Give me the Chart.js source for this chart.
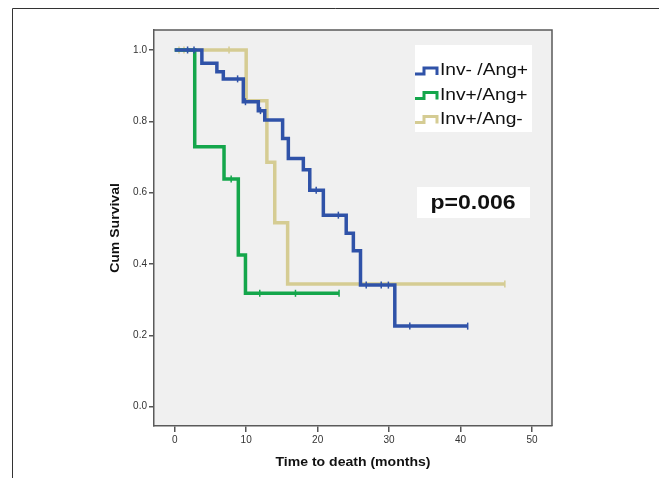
<!DOCTYPE html>
<html lang="en">
<head>
<meta charset="UTF-8">
<title>Cum Survival - Time to death</title>
<script src="https://cdn.jsdelivr.net/npm/chart.js"></script>
<style>
  html, body { margin: 0; padding: 0; background: #fff; }
  #wrap { width: 659px; height: 478px; }
</style>
</head>
<body>
<div id="wrap"><canvas id="km" width="659" height="478"></canvas></div>
<script>
  // groups
  const seriesNames = ['Inv- /Ang+', 'Inv+/Ang+', 'Inv+/Ang-'];
  const seriesColors = ['#2f52a8', '#14a64b', '#d5cc93'];
  const pValueText = 'p=0.006';
  const xTitle = 'Time to death (months)';
  const yTitle = 'Cum Survival';
  const xTicks = [0, 10, 20, 30, 40, 50];
  const yTicks = [0, 0.2, 0.4, 0.6, 0.8, 1.0];

  // Inv- /Ang+ : step points (months, survival) and censored cases
  const blueTime = [0, 3.8, 5.9, 6.8, 9.6, 11.7, 12.6, 15.1, 15.9, 18.0, 18.9, 20.8, 24.0, 25.0, 26.0, 30.8, 41.0];
  const blueSurv = [1, 0.963, 0.939, 0.919, 0.855, 0.83, 0.804, 0.752, 0.696, 0.664, 0.607, 0.537, 0.486, 0.437, 0.341, 0.226, 0.226];
  const blueCensTime = [1.8, 2.7, 8.8, 9.9, 12.0, 19.8, 22.9, 26.8, 28.9, 29.9, 32.9, 41.0];
  const blueCensSurv = [1, 1, 0.919, 0.855, 0.83, 0.607, 0.537, 0.341, 0.341, 0.341, 0.226, 0.226];

  // Inv+/Ang+
  const greenTime = [0, 2.8, 6.9, 8.9, 9.9, 23.0];
  const greenSurv = [1, 0.729, 0.638, 0.425, 0.318, 0.318];
  const greenCensTime = [7.9, 11.9, 16.9, 23.0];
  const greenCensSurv = [0.638, 0.318, 0.318, 0.318];

  // Inv+/Ang-
  const tanTime = [0, 10.0, 12.9, 14.0, 15.8, 46.2];
  const tanSurv = [1, 0.858, 0.685, 0.516, 0.344, 0.344];
  const tanCensTime = [0.6, 1.3, 7.6, 46.2];
  const tanCensSurv = [1, 1, 1, 0.344];

  const pts = (xs, ys) => xs.map((x, i) => ({ x: x, y: ys[i] }));

  function stepSet(xs, ys, color, order) {
    return {
      type: 'line', data: pts(xs, ys), stepped: true,
      borderColor: color, borderWidth: 3.5, pointRadius: 0,
      fill: false, order: order, borderJoinStyle: 'miter'
    };
  }
  function censSet(xs, ys, color, order) {
    return {
      type: 'scatter', data: pts(xs, ys), pointStyle: 'line', rotation: 90,
      pointRadius: 3.5, borderColor: color, pointBorderWidth: 1.5,
      backgroundColor: color, order: order
    };
  }

  // stretched text, the original picture is a bit wide
  function txt(ctx, s, x, y, font, align, sx) {
    ctx.save();
    ctx.translate(x, y);
    ctx.scale(sx, 1);
    ctx.font = font;
    ctx.textAlign = align;
    ctx.textBaseline = 'middle';
    ctx.fillStyle = '#111';
    ctx.fillText(s, 0, 0);
    ctx.restore();
  }

  const decor = {
    id: 'decor',
    beforeDraw(chart) {
      const { ctx, chartArea: a } = chart;
      ctx.save();
      ctx.fillStyle = '#fff';
      ctx.fillRect(0, 0, chart.width, chart.height);
      ctx.strokeStyle = '#333';
      ctx.lineWidth = 1;
      ctx.beginPath();
      ctx.moveTo(12.5, chart.height);
      ctx.lineTo(12.5, 8.5);
      ctx.lineTo(chart.width, 8.5);
      ctx.stroke();
      ctx.fillStyle = '#f0f0f0';
      ctx.fillRect(a.left, a.top, a.right - a.left, a.bottom - a.top);
      ctx.restore();
    },
    afterDraw(chart) {
      const { ctx, chartArea: a } = chart;
      ctx.save();
      ctx.strokeStyle = '#5a5a5a';
      ctx.lineWidth = 1.5;
      ctx.beginPath();
      ctx.moveTo(a.left, a.top);
      ctx.lineTo(a.right, a.top);
      ctx.lineTo(a.right, a.bottom);
      ctx.stroke();

      // legend
      ctx.fillStyle = '#fff';
      ctx.fillRect(415, 45, 117, 87);
      const rows = [71, 95.5, 119.5];
      seriesNames.forEach((name, i) => {
        const y = rows[i];
        ctx.strokeStyle = seriesColors[i];
        ctx.lineWidth = 3;
        ctx.beginPath();
        ctx.moveTo(415, y + 3);
        ctx.lineTo(424, y + 3);
        ctx.lineTo(424, y - 3);
        ctx.lineTo(437, y - 3);
        ctx.lineTo(437, y + 4);
        ctx.stroke();
        txt(ctx, name, 440, y, '16px "Liberation Sans", Arial, sans-serif', 'left', 1.2);
      });

      // p value
      ctx.fillStyle = '#fff';
      ctx.fillRect(417, 187, 113, 31);
      txt(ctx, pValueText, 473, 203, 'bold 20px "Liberation Sans", Arial, sans-serif', 'center', 1.15);

      // axis titles
      txt(ctx, xTitle, (a.left + a.right) / 2, 462, 'bold 13px "Liberation Sans", Arial, sans-serif', 'center', 1.08);
      ctx.save();
      ctx.translate(115, (a.top + a.bottom) / 2);
      ctx.rotate(-Math.PI / 2);
      txt(ctx, yTitle, 0, 0, 'bold 13px "Liberation Sans", Arial, sans-serif', 'center', 1.08);
      ctx.restore();
      ctx.restore();
    }
  };

  const tickFont = { family: '"Liberation Sans", Arial, sans-serif', size: 10 };

  new Chart(document.getElementById('km'), {
    data: {
      datasets: [
        stepSet(tanTime, tanSurv, seriesColors[2], 6),
        censSet(tanCensTime, tanCensSurv, seriesColors[2], 5),
        stepSet(greenTime, greenSurv, seriesColors[1], 4),
        censSet(greenCensTime, greenCensSurv, seriesColors[1], 3),
        stepSet(blueTime, blueSurv, seriesColors[0], 2),
        censSet(blueCensTime, blueCensSurv, seriesColors[0], 1)
      ]
    },
    options: {
      responsive: false,
      animation: false,
      layout: { padding: { top: 30, right: 107, left: 0, bottom: 0 } },
      plugins: { legend: { display: false }, tooltip: { enabled: false } },
      scales: {
        x: {
          type: 'linear', min: -2.9, max: 52.8,
          afterFit: s => { s.height = 52; },
          afterBuildTicks: s => { s.ticks = xTicks.map(v => ({ value: v })); },
          grid: { drawOnChartArea: false, drawTicks: true, tickLength: 6, color: '#555', lineWidth: 1.5 },
          border: { display: true, color: '#5a5a5a', width: 1.5 },
          ticks: { font: tickFont, color: '#333', padding: 2, maxRotation: 0 }
        },
        y: {
          type: 'linear', min: -0.054, max: 1.056,
          afterFit: s => { s.width = 154; },
          afterBuildTicks: s => { s.ticks = yTicks.map(v => ({ value: v })); },
          grid: { drawOnChartArea: false, drawTicks: true, tickLength: 5, color: '#555', lineWidth: 1.5 },
          border: { display: true, color: '#5a5a5a', width: 1.5 },
          ticks: { font: tickFont, color: '#333', padding: 2, callback: v => v.toFixed(1) }
        }
      }
    },
    plugins: [decor]
  });
</script>
</body>
</html>
